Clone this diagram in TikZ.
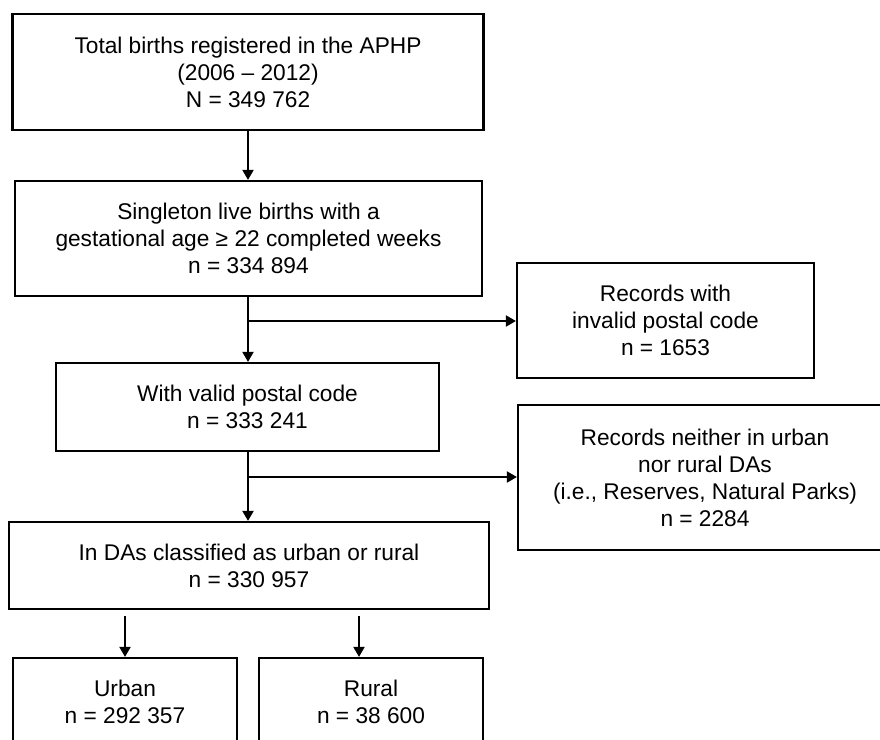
\documentclass[tikz,border=0pt]{standalone}
\usepackage{fontspec}
\setmainfont{Liberation Sans}
\usetikzlibrary{arrows.meta}
\begin{document}
\begin{tikzpicture}[x=1pt,y=-1pt,
  box/.style={draw=black,line width=2.2pt,align=center,inner sep=0pt,
    font=\fontsize{22.7}{27}\selectfont},
  conn/.style={line width=2pt,-{Triangle[length=10pt,width=11pt]}}]
\useasboundingbox (0,0) rectangle (880,739);
\clip (0,0) rectangle (880,739);
\fill[white] (0,0) rectangle (880,739);
\node[box,minimum width=471pt,minimum height=116pt] (b1) at (248,72)
  {Total births registered in the APHP\\(2006 – 2012)\\N = 349 762};
\node[box,minimum width=467pt,minimum height=115pt] (b2) at (248.5,238.5)
  {Singleton live births with a\\gestational age ≥ 22 completed weeks\\n = 334 894};
\node[box,minimum width=297pt,minimum height=115pt] (r1) at (665.5,320.5)
  {Records with\\invalid postal code\\n = 1653};
\node[box,minimum width=383pt,minimum height=88pt] (b3) at (247.5,407)
  {With valid postal code\\n = 333 241};
\node[box,minimum width=374pt,minimum height=145pt] (r2) at (705,477.5)
  {Records neither in urban\\nor rural DAs\\(i.e., Reserves, Natural Parks)\\n = 2284};
\node[box,minimum width=480pt,minimum height=87pt] (b4) at (249,565.5)
  {In DAs classified as urban or rural\\n = 330 957};
\node[box,minimum width=224pt,minimum height=88pt] (u) at (125,702)
  {Urban\\n = 292 357};
\node[box,minimum width=224pt,minimum height=88pt] (r) at (371,702)
  {Rural\\n = 38 600};
\coordinate (j1) at (248,321);
\coordinate (j2) at (248,477);
\coordinate (u0) at (125,616);
\coordinate (r0) at (359,616);
\draw[conn] (b1.south -| 248,0) -- (b2.north -| 248,0);
\draw[conn] (b2.south -| 248,0) -- (b3.north -| 248,0);
\draw[conn] (b3.south -| 248,0) -- (b4.north -| 248,0);
\draw[conn] (j1) -- (j1 -| r1.west);
\draw[conn] (j2) -- (j2 -| r2.west);
\draw[conn] (u0) -- (u0 |- u.north);
\draw[conn] (r0) -- (r0 |- r.north);
\end{tikzpicture}
\end{document}
